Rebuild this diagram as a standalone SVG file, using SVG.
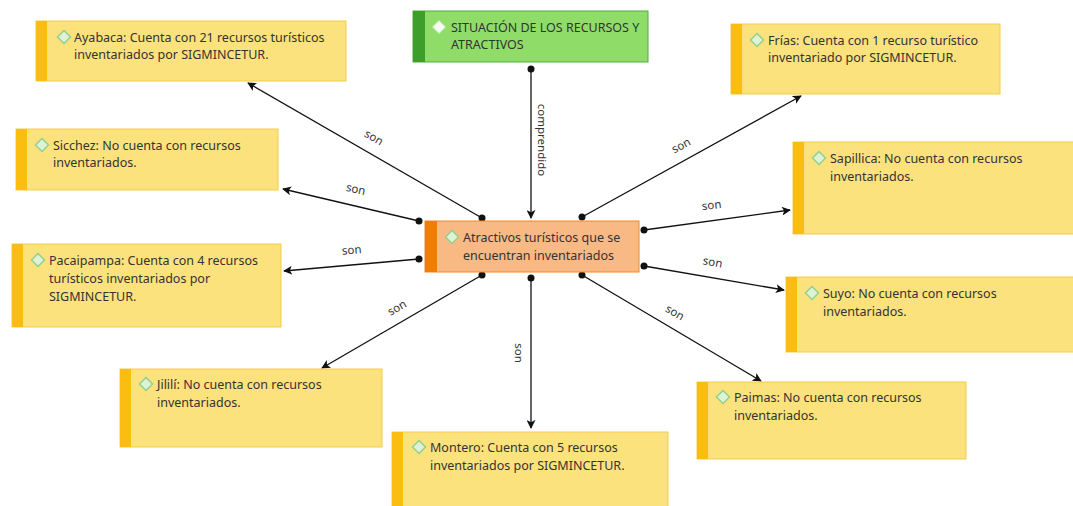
<svg xmlns="http://www.w3.org/2000/svg" width="1073" height="506" viewBox="0 0 1073 506">
<style>
.box{fill:#FCE27C;stroke:#F3CB4E;stroke-width:1}
.stripe{fill:#FBBD12}
.t{font-family:"Noto Sans","Liberation Sans",sans-serif;font-size:12.5px;fill:#333}
.lbl{font-family:"Noto Sans","Liberation Sans",sans-serif;font-size:11.5px;fill:#333}
.dia{fill:#DDF2D6;stroke:#93D08C;stroke-width:1.5}
.ln{stroke:#111;stroke-width:1.3;fill:none;marker-end:url(#ah)}
.dot{fill:#111}
</style>
<defs>
<marker id="ah" viewBox="0 0 10 10" refX="9" refY="5" markerWidth="9" markerHeight="9" markerUnits="userSpaceOnUse" orient="auto">
<path d="M0,0 L10,5 L0,10 L2.5,5 Z" fill="#111"/>
</marker>
<path id="dm" d="M0,-6.5 L6.5,0 L0,6.5 L-6.5,0 Z"/>
</defs>
<rect width="1073" height="506" fill="#fff"/>

<g id="connectors">
<line class="ln" x1="531" y1="69" x2="531" y2="218"/>
<circle class="dot" cx="531" cy="69" r="3.5"/>
<text class="lbl" transform="translate(538,140) rotate(90)" text-anchor="middle">comprendido</text>

<line class="ln" x1="482" y1="218" x2="248" y2="83"/>
<circle class="dot" cx="482" cy="218" r="3.5"/>
<text class="lbl" transform="translate(372,141) rotate(30)" text-anchor="middle">son</text>

<line class="ln" x1="419" y1="221" x2="283" y2="189"/>
<circle class="dot" cx="419" cy="221" r="3.5"/>
<text class="lbl" transform="translate(355,193) rotate(13)" text-anchor="middle">son</text>

<line class="ln" x1="419" y1="259" x2="284" y2="271"/>
<circle class="dot" cx="419" cy="259" r="3.5"/>
<text class="lbl" transform="translate(352,254) rotate(-5)" text-anchor="middle">son</text>

<line class="ln" x1="482" y1="275" x2="322" y2="368"/>
<circle class="dot" cx="482" cy="275" r="3.5"/>
<text class="lbl" transform="translate(399,311) rotate(-30)" text-anchor="middle">son</text>

<line class="ln" x1="531" y1="278" x2="531" y2="428"/>
<circle class="dot" cx="531" cy="278" r="3.5"/>
<text class="lbl" transform="translate(515,353) rotate(90)" text-anchor="middle">son</text>

<line class="ln" x1="582" y1="275" x2="761" y2="381"/>
<circle class="dot" cx="582" cy="275" r="3.5"/>
<text class="lbl" transform="translate(673,316) rotate(30)" text-anchor="middle">son</text>

<line class="ln" x1="644" y1="266" x2="784" y2="290"/>
<circle class="dot" cx="644" cy="266" r="3.5"/>
<text class="lbl" transform="translate(712,266) rotate(10)" text-anchor="middle">son</text>

<line class="ln" x1="644" y1="230" x2="790" y2="210"/>
<circle class="dot" cx="644" cy="230" r="3.5"/>
<text class="lbl" transform="translate(712,209) rotate(-7)" text-anchor="middle">son</text>

<line class="ln" x1="582" y1="217" x2="801" y2="96"/>
<circle class="dot" cx="582" cy="217" r="3.5"/>
<text class="lbl" transform="translate(683,149) rotate(-28)" text-anchor="middle">son</text>
</g>

<g id="n-situacion">
<rect x="413" y="11" width="235" height="51" fill="#8FDD68" stroke="#4FAE3A"/>
<rect x="413" y="11" width="12" height="51" fill="#3E9E2A"/>
<use href="#dm" x="439" y="27" fill="#F4FBF0" stroke="#C5E9BA" stroke-width="1"/>
<text class="t" x="451" y="32">SITUACIÓN DE LOS RECURSOS Y</text>
<text class="t" x="451" y="49">ATRACTIVOS</text>
</g>

<g id="n-atractivos">
<rect x="425" y="221" width="214" height="51" fill="#F9B985" stroke="#EE8A2A"/>
<rect x="425" y="221" width="12" height="51" fill="#F07C0C"/>
<use href="#dm" class="dia" x="452" y="237"/>
<text class="t" x="463" y="242">Atractivos turísticos que se</text>
<text class="t" x="463" y="260">encuentran inventariados</text>
</g>

<g id="n-ayabaca">
<rect class="box" x="36" y="21" width="310" height="60"/>
<rect class="stripe" x="36" y="21" width="11" height="60"/>
<use href="#dm" class="dia" x="64" y="37"/>
<text class="t" x="74" y="42">Ayabaca: Cuenta con 21 recursos turísticos</text>
<text class="t" x="74" y="59">inventariados por SIGMINCETUR.</text>
</g>

<g id="n-sicchez">
<rect class="box" x="16" y="129" width="262" height="61"/>
<rect class="stripe" x="16" y="129" width="11" height="61"/>
<use href="#dm" class="dia" x="42" y="145"/>
<text class="t" x="53" y="150">Sicchez: No cuenta con recursos</text>
<text class="t" x="53" y="167">inventariados.</text>
</g>

<g id="n-pacaipampa">
<rect class="box" x="12" y="244" width="269" height="83"/>
<rect class="stripe" x="12" y="244" width="11" height="83"/>
<use href="#dm" class="dia" x="38" y="260"/>
<text class="t" x="49" y="265">Pacaipampa: Cuenta con 4 recursos</text>
<text class="t" x="49" y="283">turísticos inventariados por</text>
<text class="t" x="49" y="301">SIGMINCETUR.</text>
</g>

<g id="n-jilili">
<rect class="box" x="120" y="369" width="262" height="78"/>
<rect class="stripe" x="120" y="369" width="11" height="78"/>
<use href="#dm" class="dia" x="146" y="384"/>
<text class="t" x="157" y="389">Jililí: No cuenta con recursos</text>
<text class="t" x="157" y="407">inventariados.</text>
</g>

<g id="n-montero">
<rect class="box" x="392" y="432" width="276" height="80"/>
<rect class="stripe" x="392" y="432" width="11" height="80"/>
<use href="#dm" class="dia" x="419" y="447"/>
<text class="t" x="430" y="452">Montero: Cuenta con 5 recursos</text>
<text class="t" x="430" y="470">inventariados por SIGMINCETUR.</text>
</g>

<g id="n-paimas">
<rect class="box" x="697" y="382" width="269" height="77"/>
<rect class="stripe" x="697" y="382" width="11" height="77"/>
<use href="#dm" class="dia" x="723" y="397"/>
<text class="t" x="734" y="402">Paimas: No cuenta con recursos</text>
<text class="t" x="734" y="420">inventariados.</text>
</g>

<g id="n-suyo">
<rect class="box" x="786" y="277" width="300" height="75"/>
<rect class="stripe" x="786" y="277" width="11" height="75"/>
<use href="#dm" class="dia" x="812" y="293"/>
<text class="t" x="823" y="298">Suyo: No cuenta con recursos</text>
<text class="t" x="823" y="316">inventariados.</text>
</g>

<g id="n-sapillica">
<rect class="box" x="793" y="142" width="300" height="92"/>
<rect class="stripe" x="793" y="142" width="11" height="92"/>
<use href="#dm" class="dia" x="819" y="158"/>
<text class="t" x="830" y="163">Sapillica: No cuenta con recursos</text>
<text class="t" x="830" y="181">inventariados.</text>
</g>

<g id="n-frias">
<rect class="box" x="731" y="24" width="269" height="70"/>
<rect class="stripe" x="731" y="24" width="11" height="70"/>
<use href="#dm" class="dia" x="757" y="40"/>
<text class="t" x="768" y="45">Frías: Cuenta con 1 recurso turístico</text>
<text class="t" x="768" y="62">inventariado por SIGMINCETUR.</text>
</g>
</svg>
